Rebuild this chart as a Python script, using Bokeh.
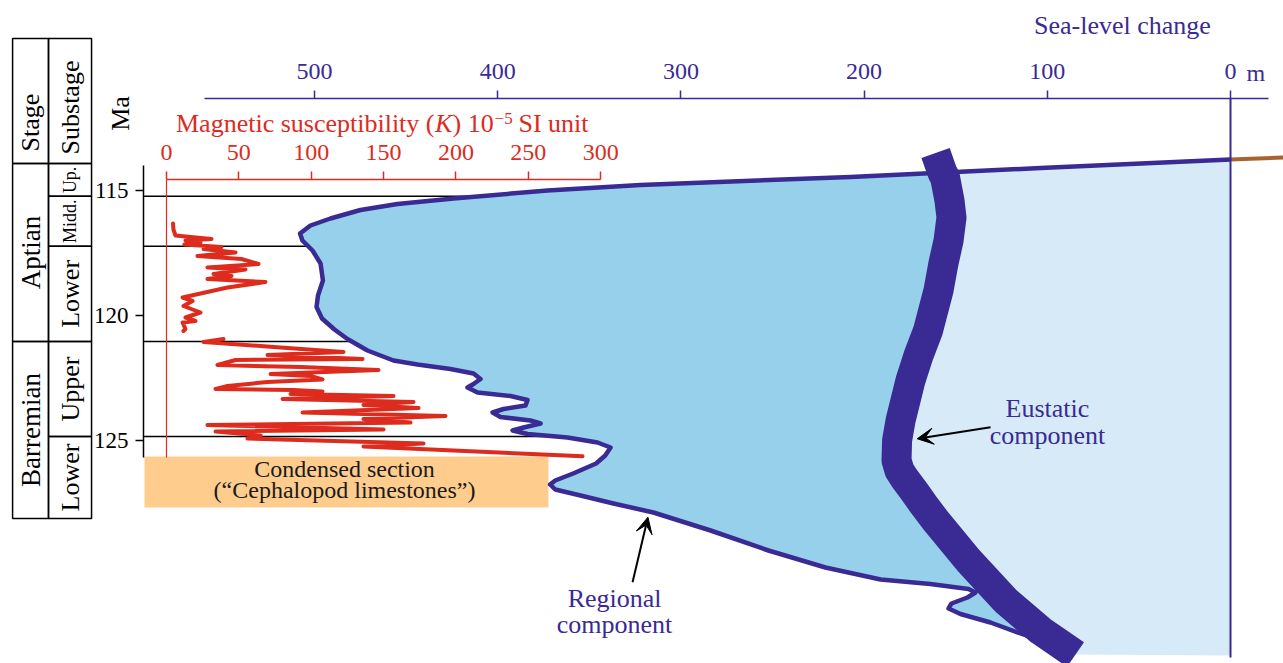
import numpy as np
from bokeh.plotting import figure
from bokeh.models import Range1d, LinearAxis, FixedTicker, Arrow, VeeHead
from bokeh.core.properties import value
from bokeh.embed import file_html
from bokeh.resources import INLINE

# ---------------- data ----------------
sea_ticks = [500, 400, 300, 200, 100, 0]          # sea-level change, m
k_ticks = [0, 50, 100, 150, 200, 250, 300]        # magnetic susceptibility, 1e-5 SI
ma_ticks = [115, 120, 125]                        # age, Ma

stages = ["Aptian", "Barremian"]
stage_bounds = [113.92, 121.04, 128.12]
substages = ["Up.", "Midd.", "Lower", "Upper", "Lower"]
substage_bounds = [113.92, 115.23, 117.23, 121.04, 124.84, 128.12]

# magnetic susceptibility K (upper, Aptian part)
k_upper = [4.5, 4.8, 6.2, 16.6, 31.1, 13.1, 23.5, 12.4, 38.0, 25.6, 47.7, 21.4, 51.8, 63.6, 28.3,
           54.6, 32.5, 44.9, 28.3, 68.4, 42.2, 11.1, 18.0, 11.7, 23.5, 13.1, 20.0, 11.1, 13.1, 11.7]
ma_k_upper = [116.32, 116.56, 116.80, 116.86, 116.94, 117.00, 117.08, 117.16, 117.26, 117.34,
              117.48, 117.62, 117.74, 117.94, 118.08, 118.16, 118.34, 118.42, 118.54, 118.66,
              118.88, 119.28, 119.42, 119.62, 119.88, 120.08, 120.22, 120.28, 120.54, 120.62]
# magnetic susceptibility K (lower, Barremian part)
k_lower = [39.4, 25.6, 78.8, 122.3, 69.8, 135.5, 47.7, 35.2, 92.6, 146.5, 71.9, 99.5, 107.8, 69.8,
           42.2, 33.9, 87.8, 107.8, 85.7, 156.9, 80.2, 170.7, 136.1, 174.2, 94.0, 192.8, 136.1,
           168.6, 28.3, 150.0, 33.9, 65.0, 56.0, 177.6, 136.1, 287.5]
ma_k_lower = [120.94, 121.06, 121.28, 121.46, 121.58, 121.74, 121.78, 121.98, 122.06, 122.18,
              122.34, 122.42, 122.56, 122.66, 122.82, 122.94, 122.98, 123.04, 123.14, 123.22,
              123.34, 123.46, 123.58, 123.70, 123.88, 124.02, 124.14, 124.28, 124.38, 124.56,
              124.64, 124.80, 124.92, 125.12, 125.24, 125.63]

# regional sea-level curve (m, Ma)
regional_m = [0.0, 103.7, 207.4, 322.1, 372.8, 424.1, 454.7, 474.9, 491.3, 502.2, 507.9, 506.6,
              501.1, 496.7, 495.4, 498.1, 498.9, 495.9, 489.1, 482.0, 471.1, 456.9, 443.8, 425.8,
              413.2, 409.4, 413.2, 416.5, 411.0, 393.0, 383.7, 384.8, 396.8, 402.8, 398.5, 382.1,
              376.6, 385.9, 391.9, 383.7, 361.9, 345.5, 338.4, 341.3, 346.3, 358.8, 368.6, 371.4,
              368.6, 354.8, 336.8, 315.0, 283.8, 252.2, 221.1, 191.0, 163.8, 143.0, 139.2, 143.6,
              152.3, 153.9, 147.4, 131.0, 114.6, 95.5]
regional_ma = [113.76, 114.10, 114.46, 114.78, 115.00, 115.32, 115.54, 115.78, 116.12, 116.40,
               116.72, 117.00, 117.40, 117.92, 118.60, 119.20, 119.66, 120.12, 120.56, 120.94,
               121.40, 121.80, 121.96, 122.14, 122.32, 122.54, 122.74, 122.88, 123.08, 123.22,
               123.38, 123.60, 123.74, 123.88, 124.06, 124.20, 124.32, 124.48, 124.60, 124.74,
               124.88, 125.08, 125.28, 125.60, 125.92, 126.32, 126.60, 126.76, 126.96, 127.20,
               127.52, 127.88, 128.60, 129.40, 130.08, 130.56, 130.74, 130.94, 131.08, 131.28,
               131.52, 131.72, 131.94, 132.28, 132.72, 133.20]

# eustatic sea-level curve (m, Ma)
eustatic_m = [161.0, 157.2, 155.8, 153.4, 152.3, 153.9, 156.7, 159.4, 165.1, 170.3, 174.7, 177.4,
              180.1, 182.0, 182.3, 180.7, 177.9, 173.0, 167.6, 161.0, 143.0, 122.8, 103.7, 84.6]
eustatic_ma = [113.50, 114.29, 114.48, 115.40, 116.08, 117.00, 117.92, 119.00, 120.60, 121.60,
               122.60, 123.40, 124.20, 125.00, 125.80, 126.20, 126.52, 127.00, 127.56, 128.20,
               129.80, 131.40, 132.60, 133.56]

# land surface continuation (m, Ma)
land_m = [0.0, -30.0]
land_ma = [113.76, 113.68]

# ---------------- layout constants (data units) ----------------
INDIGO = "#3A2A94"
RED = "#DD2B1E"
MID_BLUE = "#97D0EA"
LIGHT_BLUE = "#D6EBF7"
ORANGE = "#FECD8E"
BROWN = "#A66430"
FONT = "Liberation Serif"

SEA_AXIS_MA = 111.32
K_AXIS_MA = 114.56
MA_AXIS_M = 593.3
SECTION_BOTTOM = 133.6
TABLE_TOP = 108.92
COL_L, COL_M, COL_R = 664.8, 645.2, 621.7

p = figure(width=1283, height=663,
           x_range=Range1d(671.4, -28.93), y_range=Range1d(133.92, 107.4),
           output_backend="svg", toolbar_location=None, min_border=0,
           x_axis_type=None, y_axis_type=None)
p.outline_line_color = None
p.extra_x_ranges = {"k": Range1d(-114.72, 771.9)}


def style_axis(ax, color, size):
    ax.axis_line_color = color
    ax.axis_line_width = 1.5
    ax.major_tick_line_color = color
    ax.major_tick_line_width = 1.5
    ax.major_tick_out = 8
    ax.major_tick_in = 0
    ax.minor_tick_line_color = None
    ax.major_label_text_color = color
    ax.major_label_text_font = FONT
    ax.major_label_text_font_size = f"{size}px"


sea_axis = LinearAxis(ticker=FixedTicker(ticks=sea_ticks), fixed_location=SEA_AXIS_MA,
                      bounds=(-20.7, 560.0))
style_axis(sea_axis, INDIGO, 24)
sea_axis.major_label_standoff = 12
p.add_layout(sea_axis, "above")

k_axis = LinearAxis(x_range_name="k", ticker=FixedTicker(ticks=k_ticks),
                    fixed_location=K_AXIS_MA, bounds=(0, 300))
style_axis(k_axis, RED, 24)
k_axis.major_label_standoff = 12
p.add_layout(k_axis, "above")

ma_axis = LinearAxis(ticker=FixedTicker(ticks=ma_ticks), fixed_location=MA_AXIS_M,
                     bounds=(114.0, 125.68))
style_axis(ma_axis, "black", 23)
ma_axis.major_label_standoff = 7
p.add_layout(ma_axis, "left")

# ---- fills ----
light_x = eustatic_m[1:] + [0.0, regional_m[0]]
light_y = eustatic_ma[1:] + [SECTION_BOTTOM, regional_ma[0]]
p.patch(light_x, light_y, fill_color=LIGHT_BLUE, line_color=None)

# stage boundary lines (hidden under the regional fill beyond the curve)
inner = substage_bounds[1:-1]
p.segment(x0=[MA_AXIS_M] * len(inner), x1=[300.0] * len(inner), y0=inner, y1=inner,
          line_color="black", line_width=1.5)

mid_x = [eustatic_m[1]] + regional_m[2:] + eustatic_m[-1:1:-1]
mid_y = [eustatic_ma[1]] + regional_ma[2:] + eustatic_ma[-1:1:-1]
p.patch(mid_x, mid_y, fill_color=MID_BLUE, line_color=None)

# condensed section box
p.quad(left=[592.8], right=[372.3], top=[125.64], bottom=[127.68],
       fill_color=ORANGE, line_color=None)
p.text(x=[483.6, 483.6], y=[126.12, 126.96],
       text=["Condensed section", "(\u201cCephalopod limestones\u201d)"],
       text_font=value(FONT), text_font_size=value("24px"), text_color="#1a1a1a",
       text_align="center", text_baseline="middle")

# K zero line and K curve
p.segment(x0=[0], x1=[0], y0=[K_AXIS_MA], y1=[125.68], x_range_name="k",
          line_color=RED, line_width=1.2)
p.multi_line(xs=[k_upper, k_lower], ys=[ma_k_upper, ma_k_lower], x_range_name="k",
             line_color=RED, line_width=4, line_join="round", line_cap="round")

# curves
p.line(regional_m, regional_ma, line_color=INDIGO, line_width=4.5, line_join="round")
p.line(eustatic_m, eustatic_ma, line_color=INDIGO, line_width=30, line_join="round",
       line_cap="butt")
p.line(land_m, land_ma, line_color=BROWN, line_width=4)
p.segment(x0=[0], x1=[0], y0=[SEA_AXIS_MA], y1=[133.68], line_color=INDIGO, line_width=2)

# ---- stratigraphic table ----
st_top = [TABLE_TOP] + stage_bounds[:-1]
st_bot = [stage_bounds[0]] + stage_bounds[1:]
p.quad(left=[COL_L] * len(st_top), right=[COL_M] * len(st_top), top=st_top, bottom=st_bot,
       fill_color=None, line_color="black", line_width=1.5)
ss_top = [TABLE_TOP] + substage_bounds[:-1]
ss_bot = [substage_bounds[0]] + substage_bounds[1:]
p.quad(left=[COL_M] * len(ss_top), right=[COL_R] * len(ss_top), top=ss_top, bottom=ss_bot,
       fill_color=None, line_color="black", line_width=1.5)

col1 = (COL_L + COL_M) / 2
col2 = (COL_M + COL_R) / 2
stage_mid = [(a + b) / 2 for a, b in zip(stage_bounds[:-1], stage_bounds[1:])]
p.text(x=[col1] * len(stages), y=stage_mid, text=stages, angle=np.pi / 2,
       text_font=value(FONT), text_font_size=value("27px"), text_color="black",
       text_align="center", text_baseline="middle")
sub_mid = [(a + b) / 2 for a, b in zip(substage_bounds[:-1], substage_bounds[1:])]
sub_size = ["18px" if s.endswith(".") else "26px" for s in substages]
p.text(x=[col2] * len(substages), y=sub_mid, text=substages, angle=np.pi / 2,
       text_font=value(FONT), text_font_size=sub_size, text_color="black",
       text_align="center", text_baseline="middle")
p.text(x=[col1, col2, 605.9], y=[112.28, 111.68, 111.92], text=["Stage", "Substage", "Ma"],
       angle=np.pi / 2, text_font=value(FONT), text_font_size=value("26px"),
       text_color="black", text_align="center", text_baseline="middle")

# ---- titles / labels ----
p.text(x=[59.0], y=[108.4], text=["Sea-level change"], text_font=value(FONT),
       text_font_size=value("26px"), text_color=INDIGO, text_align="center",
       text_baseline="middle")
p.text(x=[-8.7], y=[110.28], text=["m"], text_font=value(FONT), text_font_size=value("24px"),
       text_color=INDIGO, text_align="left", text_baseline="middle")

lab_kw = dict(x_range_name="k", text_font=value(FONT), text_color=RED, text_baseline="middle")
p.text(x=[185.2], y=[112.31], text=["Magnetic susceptibility ("], text_align="right",
       text_font_size=value("26px"), **lab_kw)
p.text(x=[185.6], y=[112.31], text=["K"], text_align="left", text_font_style="italic",
       text_font_size=value("26px"), **lab_kw)
p.text(x=[197.7], y=[112.31], text=[") 10"], text_align="left",
       text_font_size=value("26px"), **lab_kw)
p.text(x=[226.7], y=[112.1], text=["\u22125"], text_align="left",
       text_font_size=value("17px"), **lab_kw)
p.text(x=[243.2], y=[112.31], text=["SI unit"], text_align="left",
       text_font_size=value("26px"), **lab_kw)

p.text(x=[99.9, 99.9], y=[123.7, 124.8], text=["Eustatic", "component"],
       text_font=value(FONT), text_font_size=value("26px"), text_color=INDIGO,
       text_align="center", text_baseline="middle")
p.text(x=[336.2, 336.2], y=[131.3, 132.36], text=["Regional", "component"],
       text_font=value(FONT), text_font_size=value("26px"), text_color=INDIGO,
       text_align="center", text_baseline="middle")

p.add_layout(Arrow(end=VeeHead(size=16, fill_color="black", line_color="black"),
                   x_start=131.0, y_start=124.47, x_end=171.0, y_end=124.93,
                   line_color="black", line_width=2))
p.add_layout(Arrow(end=VeeHead(size=16, fill_color="black", line_color="black"),
                   x_start=326.4, y_start=130.67, x_end=318.0, y_end=128.07,
                   line_color="black", line_width=2))

open("out.html", "w").write(file_html(p, INLINE))
